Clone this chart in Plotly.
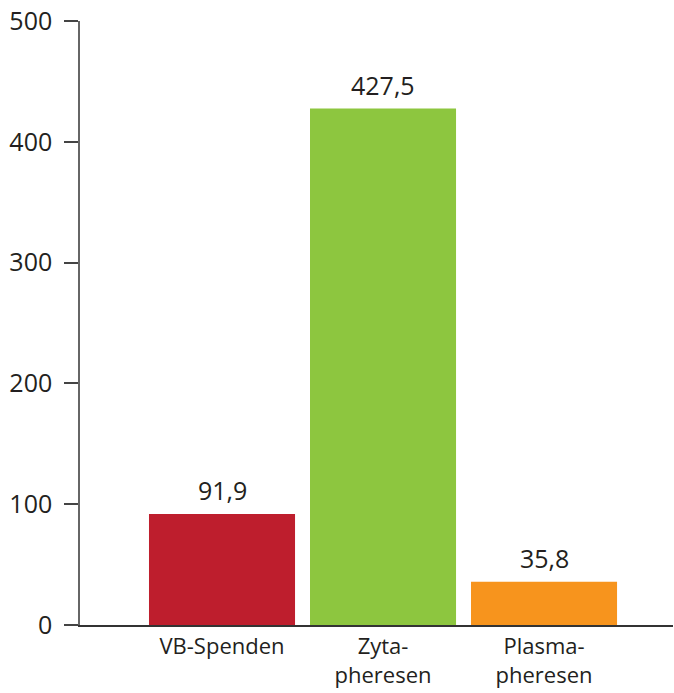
import plotly.graph_objects as go

categories = ["VB-Spenden", "Zyta-<br>pheresen", "Plasma-<br>pheresen"]
values = [91.9, 427.5, 35.8]
colors = ["#BE1E2D", "#8DC63F", "#F7941D"]
y_ticks = [0, 100, 200, 300, 400, 500]

FONT = "Open Sans, Noto Sans, sans-serif"
TEXT = "#231F20"

x_pos = list(range(len(categories)))

fig = go.Figure(
    go.Bar(
        x=x_pos,
        y=values,
        marker=dict(color=colors, line=dict(width=0)),
        width=0.907,
        hoverinfo="skip",
    )
)

# value labels above each bar, written with a decimal comma
for xi, v in zip(x_pos, values):
    fig.add_annotation(
        x=xi, y=v, text=f"{v:.1f}".replace(".", ","),
        showarrow=False, yanchor="bottom", yshift=5,
        font=dict(family=FONT, size=25, color=TEXT),
    )

fig.update_layout(
    width=674, height=693,
    margin=dict(l=80, r=1, t=21, b=68),
    paper_bgcolor="white", plot_bgcolor="white",
    showlegend=False,
    font=dict(family=FONT, size=24, color=TEXT),
    xaxis=dict(
        range=[-0.882, 2.801],
        tickvals=x_pos, ticktext=categories,
        showgrid=False, zeroline=False,
        showline=True, linecolor="#333333", linewidth=1.5,
        ticks="", ticklabelstandoff=1, automargin=False,
        tickfont=dict(family=FONT, size=22, color=TEXT),
    ),
    yaxis=dict(
        range=[0, 500],
        tickvals=y_ticks,
        showgrid=False, zeroline=False,
        showline=True, linecolor="#666666", linewidth=1.5,
        ticks="outside", ticklen=14, tickcolor="#444444", tickwidth=1.5,
        ticklabelstandoff=7, automargin=False,
        tickfont=dict(family=FONT, size=25, color=TEXT),
    ),
)

fig.write_html("out.html")
